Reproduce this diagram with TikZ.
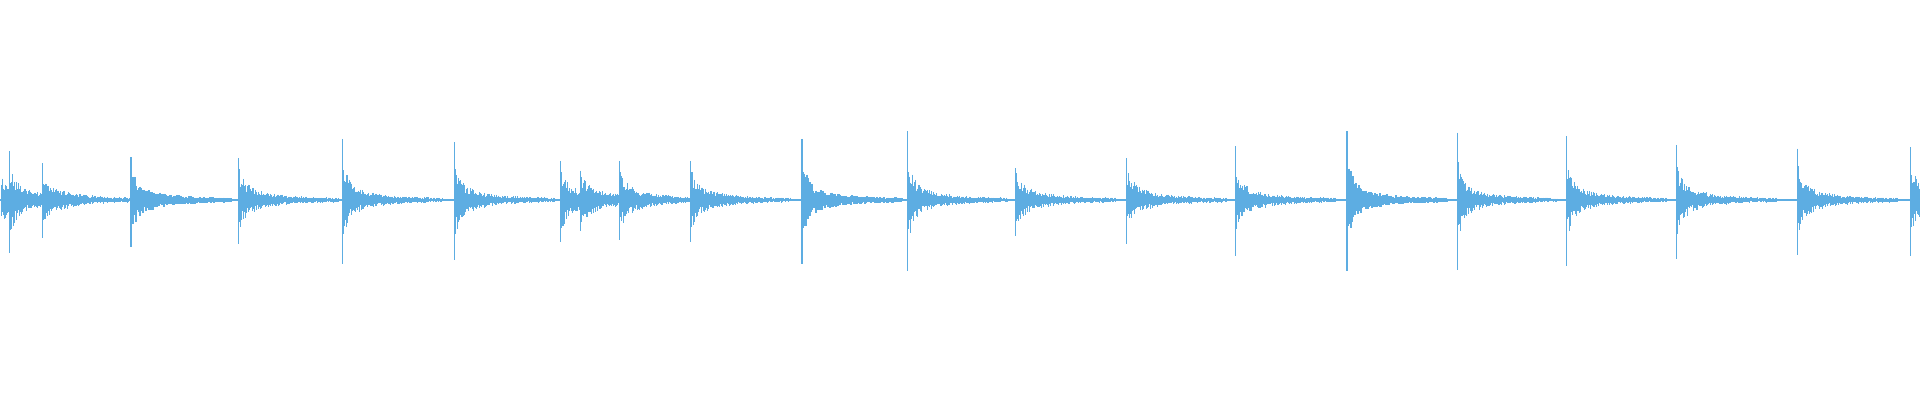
\documentclass[tikz,border=0pt]{standalone}
\begin{document}
\begin{tikzpicture}[x=0.1mm,y=0.1mm]
\definecolor{wave}{RGB}{93,173,226}
\tikzset{wv/.style={draw=wave,line width=0.12mm}}
\useasboundingbox (0,0) rectangle (1920,400);
\pgfmathsetseed{7}
\draw[wv] (0,200) -- (1920,200);
\foreach \o/\t/\b in {1/150/175,8/122/205,35/132/193,107/127/200,195/128/198,280/112/214,371/115/211,458/130/196,474/138/187,506/130/195,564/130/196,655/112/214,741/106/220,829/136/191,920/128/198,1009/118/208,1100/106/220,1190/107/219,1279/110/216,1369/117/210,1468/120/207,1560/119/208}{
  \pgfmathsetmacro{\xx}{\o*1.2245}
  \pgfmathsetmacro{\up}{(162-\t)*1.2245}
  \pgfmathsetmacro{\dn}{(\b-162)*1.2245}
  \draw[wv] (\xx,200+\up) -- (\xx,200-\dn);
  \foreach \i in {1,...,100}{
    \pgfmathsetmacro{\env}{0.45*\up*exp(-\i/5)+16*exp(-\i/28)+2}
    \pgfmathsetmacro{\ra}{\env*(0.45+0.55*rnd)}
    \pgfmathsetmacro{\rb}{\env*(0.45+0.55*rnd)}
    \pgfmathsetmacro{\px}{\xx+\i}
    \ifdim \px pt < 1920pt
      \draw[wv] (\px,200+\ra) -- (\px,200-\rb);
    \fi
  }
}
\end{tikzpicture}
\end{document}
